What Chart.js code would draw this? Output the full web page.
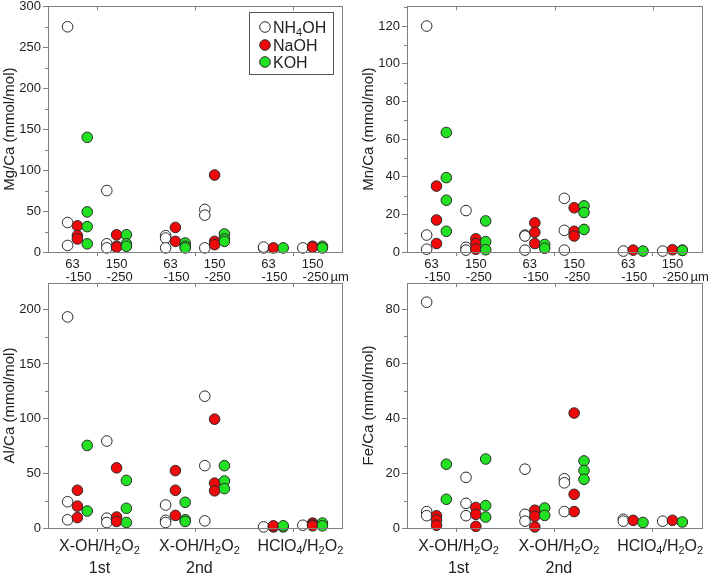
<!DOCTYPE html>
<html><head><meta charset="utf-8">
<script src="https://cdn.jsdelivr.net/npm/chart.js@4"></script>
<style>
body{margin:0;background:#fff;}
#wrap{position:relative;width:709px;height:576px;background:#fff;overflow:hidden;}
canvas{position:absolute;}
</style></head><body><div id="wrap">
<canvas id="c1" style="left:0;top:0" width="354" height="283"></canvas>
<canvas id="c2" style="left:354px;top:0" width="355" height="283"></canvas>
<canvas id="c3" style="left:0;top:276px" width="354" height="300"></canvas>
<canvas id="c4" style="left:354px;top:276px" width="355" height="300"></canvas>
</div>
<script>
// ---------- data ----------
const groups = [1, 2, 3];                       // treatment categories
const sizeOffsets = [-0.2, 0.2];                // 63-150 / 150-250 um within a treatment
const reagentOffsets = [-0.1, 0, 0.1];          // NH4OH / NaOH / KOH within a size fraction
const reagents = ['NH4OH', 'NaOH', 'KOH'];
const sizeLabels = [['63', '-150'], ['150', '-250']];
const treatmentLabels = [['X-OH/H2O2', '1st'], ['X-OH/H2O2', '2nd'], ['HClO4/H2O2', '']];
const unitLabel = 'µm';

// cells: [t1 63-150, t1 150-250, t2 63-150, t2 150-250, t3 63-150, t3 150-250]
const mgNH4OH = [[275, 36, 8], [75, 10, 5], [20, 17, 5], [52, 45, 5], [5, 6], [5]];
const mgNaOH  = [[32, 20, 16], [21, 7, 6], [30, 13], [94, 13, 9], [5], [7, 6]];
const mgKOH   = [[140, 49, 31, 10], [21, 10, 7], [11, 7, 5], [22, 16, 13], [5], [7, 5]];

const mnNH4OH = [[120, 9, 1.5], [22, 2.5, 1], [9, 8.5, 1], [28.5, 11.5, 1], [0.5], [0.5]];
const mnNaOH  = [[35, 17, 4.5], [7, 4.5, 1.5], [15.5, 10.5, 4.5], [23.5, 11, 8.5], [1], [1.2]];
const mnKOH   = [[63.5, 39.5, 27.5, 11], [16.5, 5.5, 1.2], [4, 2], [24.5, 21, 12], [0.5], [1, 0.8]];

const alNH4OH = [[193, 24, 7.5], [79.5, 9, 5], [21, 7, 5], [120.5, 57, 6.5], [1], [2.5]];
const alNaOH  = [[34.5, 20, 9.5], [55, 10, 6], [52.5, 34.5, 11.5], [99.5, 41, 34], [1, 2], [4.5, 3, 2]];
const alKOH   = [[75.5, 15.5], [43.5, 18, 5], [23.5, 7.5, 6], [57, 43, 36], [1, 2], [4.5, 2]];

const feNH4OH = [[82.5, 6, 4.5], [18.5, 9, 4.5], [21.5, 5, 2.5], [18, 16.5, 6], [3.2, 2.5], [2.5]];
const feNaOH  = [[4.5, 3, 1], [7.5, 5, 0.6], [6.5, 4.3, 0.4], [42, 12.3, 6], [2.8], [2.8]];
const feKOH   = [[23.3, 10.5], [25.2, 8.2, 4], [7.3, 4.6], [24.5, 21, 17.8], [2], [2.2]];

const yTitles = ['Mg/Ca (mmol/mol)', 'Mn/Ca (mmol/mol)', 'Al/Ca (mmol/mol)', 'Fe/Ca (mmol/mol)'];
const yMax = [300, 130.5, 224, 89.5];
const yStep = [50, 20, 50, 20];
const yMinor = [25, 10, 25, 10];
const treatmentLabelPos = [1.025, 2.045, 3.075];

// ---------- styles ----------
const FONT = "'Liberation Sans', Arial, sans-serif";
const AXIS = '#808080';
const fills = ['#ffffff', '#ee0a0a', '#22e022'];
Chart.defaults.font.family = FONT;
Chart.defaults.color = '#222';
Chart.defaults.animation = false;

function isSub(text, i) {
  return /[0-9]/.test(text[i]) && i > 0 && /[A-Za-z]/.test(text[i - 1]);
}
function drawRich(ctx, text, x, y, size, align) {
  const subSize = Math.round(size * 0.66);
  const segs = [];
  for (let i = 0; i < text.length; i++) segs.push({ t: text[i], sub: isSub(text, i) });
  let w = 0;
  segs.forEach(s => { ctx.font = (s.sub ? subSize : size) + 'px ' + FONT; s.w = ctx.measureText(s.t).width; w += s.w; });
  let cx = align === 'left' ? x : x - w / 2;
  ctx.textAlign = 'left';
  ctx.textBaseline = 'alphabetic';
  const base = y + size * 0.36;
  segs.forEach(s => {
    ctx.font = (s.sub ? subSize : size) + 'px ' + FONT;
    ctx.fillText(s.t, cx, s.sub ? base + size * 0.22 : base);
    cx += s.w;
  });
  return w;
}

function buildData(series) {
  return series.map((cells, r) => {
    const pts = [];
    cells.forEach((vals, c) => {
      const x = groups[Math.floor(c / 2)] + sizeOffsets[c % 2] + reagentOffsets[r];
      vals.forEach(v => pts.push({ x: x, y: v }));
    });
    return {
      label: reagents[r], data: pts, order: 3 - r, clip: false,
      pointRadius: 5.3, pointBackgroundColor: fills[r], pointBorderColor: '#2a2a2a',
      pointBorderWidth: 1, showLine: false
    };
  });
}

const framePlugin = {
  id: 'frame',
  afterDraw(chart, args, o) {
    const ctx = chart.ctx, a = chart.chartArea;
    const xs = chart.scales.x, ys = chart.scales.y;
    ctx.save();
    ctx.strokeStyle = AXIS; ctx.lineWidth = 1;
    ctx.strokeRect(Math.round(a.left) + 0.5, Math.round(a.top) + 0.5, Math.round(a.right - a.left), Math.round(a.bottom - a.top));
    // inward ticks on top edge
    ctx.beginPath();
    groups.forEach(g => { const px = Math.round(xs.getPixelForValue(g)) + 0.5; ctx.moveTo(px, a.top); ctx.lineTo(px, a.top + 4); });
    // minor y ticks
    for (let v = o.minor; v < o.max; v += o.step) {
      const py = Math.round(ys.getPixelForValue(v)) + 0.5;
      ctx.moveTo(a.left - 3, py); ctx.lineTo(a.left, py);
    }
    ctx.stroke();
    ctx.fillStyle = '#222';
    if (o.kind === 'top') {
      groups.forEach(g => {
        sizeLabels.forEach((lab, s) => {
          const px = xs.getPixelForValue(g + sizeOffsets[s]);
          const d1 = s === 0 ? -5 : 0, d2 = s === 0 ? 1 : 3;
          drawRich(ctx, lab[0], px + d1, 263, 13, 'center');
          const w = drawRich(ctx, lab[1], px + d2, 276, 13, 'center');
          if (g === groups[groups.length - 1] && s === 1) {
            drawRich(ctx, unitLabel, px + d2 + w / 2 + 2, 276, 13, 'left');
          }
        });
      });
    } else {
      treatmentLabels.forEach((lab, i) => {
        const px = xs.getPixelForValue(treatmentLabelPos[i]);
        drawRich(ctx, lab[0], px, 269, 16, 'center');
        if (lab[1]) drawRich(ctx, lab[1], px, 291.5, 16, 'center');
      });
    }
    if (o.legend) {
      ctx.strokeStyle = '#555';
      ctx.strokeRect(249.5, 12.5, 84, 62);
      const rows = [27, 45, 62];
      reagents.forEach((r, i) => {
        ctx.beginPath();
        ctx.arc(265, rows[i], 5.3, 0, Math.PI * 2);
        ctx.fillStyle = fills[i]; ctx.fill();
        ctx.strokeStyle = '#2a2a2a'; ctx.stroke();
        ctx.fillStyle = '#222';
        drawRich(ctx, r, 273, rows[i], 16, 'left');
      });
    }
    ctx.restore();
  }
};

const panelSeries = [[mgNH4OH, mgNaOH, mgKOH], [mnNH4OH, mnNaOH, mnKOH], [alNH4OH, alNaOH, alKOH], [feNH4OH, feNaOH, feKOH]];
const layoutSpec = [
  { id: 'c1', yW: 48, xH: 31, pad: { top: 5, right: 12, left: 0, bottom: 0 }, tPad: 1, kind: 'top', legend: true },
  { id: 'c2', yW: 53, xH: 31, pad: { top: 5, right: 7, left: 0, bottom: 0 }, tPad: 6, kind: 'top', legend: false },
  { id: 'c3', yW: 48, xH: 48, pad: { top: 7, right: 12, left: 0, bottom: 0 }, tPad: 1, kind: 'bottom', legend: false },
  { id: 'c4', yW: 53, xH: 48, pad: { top: 7, right: 7, left: 0, bottom: 0 }, tPad: 6, kind: 'bottom', legend: false }
];

layoutSpec.forEach((L, i) => {
  new Chart(document.getElementById(L.id), {
    type: 'scatter',
    data: { datasets: buildData(panelSeries[i]) },
    plugins: [framePlugin],
    options: {
      responsive: false, events: [],
      layout: { padding: L.pad },
      plugins: {
        legend: { display: false }, tooltip: { enabled: false },
        frame: { kind: L.kind, legend: L.legend, minor: yMinor[i], step: yStep[i], max: yMax[i] }
      },
      scales: {
        x: {
          type: 'linear', min: 0.5, max: 3.5,
          afterBuildTicks: s => { s.ticks = groups.map(g => ({ value: g })); },
          afterFit: s => { s.height = L.xH; s.paddingLeft = 0; s.paddingRight = 0; },
          ticks: { callback: () => '', padding: 0 },
          grid: { drawOnChartArea: false, tickLength: 4, color: AXIS },
          border: { color: AXIS }
        },
        y: {
          min: 0, max: yMax[i],
          ticks: { stepSize: yStep[i], includeBounds: false, padding: 2, font: { size: 13 }, color: '#222' },
          afterFit: s => { s.width = L.yW; s.paddingTop = 0; s.paddingBottom = 0; },
          grid: { drawOnChartArea: false, tickLength: 5, color: AXIS },
          border: { color: AXIS },
          title: { display: true, text: yTitles[i], font: { size: 15 }, color: '#222', padding: { top: L.tPad, bottom: 0 } }
        }
      }
    }
  });
});
</script></body></html>
